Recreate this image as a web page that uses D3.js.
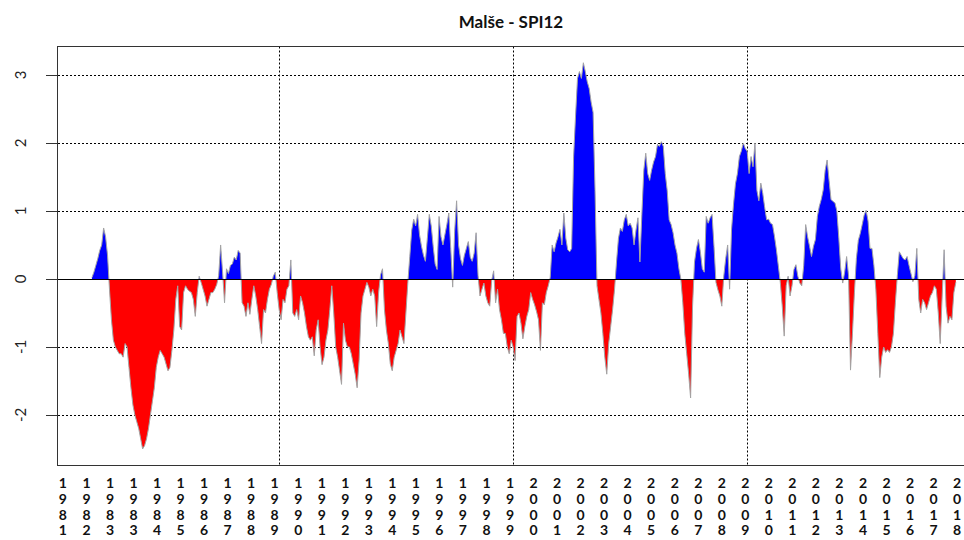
<!DOCTYPE html>
<html><head><meta charset="utf-8">
<script src="https://cdn.jsdelivr.net/npm/d3@7/dist/d3.min.js"></script>
<style>body{margin:0;background:#fff}svg{display:block}</style>
</head><body><svg id="c" width="964" height="540"></svg>
<script>
// ---- data (monthly SPI12, starting January 1982) ----
const startYear = 1982;
const spi1982_1987 = [0.02,0.1,0.2,0.3,0.42,0.5,0.75,0.62,0.35,-0.15,-0.6,-0.9,
 -1.0,-1.05,-1.1,-1.1,-1.15,-0.95,-1.0,-1.3,-1.6,-1.85,-2.0,-2.1,
 -2.2,-2.35,-2.5,-2.45,-2.35,-2.2,-2.0,-1.8,-1.6,-1.3,-1.15,-1.05,
 -1.1,-1.15,-1.25,-1.35,-1.3,-1.05,-0.75,-0.3,-0.1,-0.7,-0.75,-0.2,
 -0.1,-0.15,-0.18,-0.2,-0.3,-0.55,-0.2,0.04,-0.05,-0.15,-0.25,-0.4,
 -0.3,-0.2,-0.2,-0.15,-0.08,0.05,0.5,0.1,-0.35,0.15,0.08,0.2];
const spi1988_1993 = [0.22,0.32,0.28,0.42,0.38,-0.35,-0.4,-0.55,-0.35,-0.52,-0.3,-0.1,
 -0.25,-0.45,-0.7,-0.95,-0.45,-0.5,-0.3,-0.15,-0.08,0.04,0.1,-0.2,
 -0.45,-0.6,-0.3,-0.35,-0.15,-0.1,0.28,-0.5,-0.55,-0.45,-0.6,-0.25,
 -0.35,-0.5,-0.7,-0.85,-0.9,-0.85,-1.13,-0.75,-0.6,-1.0,-1.26,-1.15,
 -0.9,-0.75,-0.45,-0.1,-0.5,-1.0,-1.15,-1.35,-1.55,-0.65,-0.9,-1.0,
 -1.0,-1.1,-1.25,-1.4,-1.6,-1.2,-0.5,-0.25,-0.15,-0.05,-0.12,-0.25];
const spi1994_1999 = [-0.15,-0.25,-0.7,-0.2,0.06,0.15,-0.45,-0.75,-0.95,-1.25,-1.35,-1.15,
 -1.05,-0.95,-0.75,-0.85,-0.95,-0.5,-0.05,0.33,0.72,0.88,0.78,0.95,
 0.65,0.48,0.35,0.26,0.6,0.95,0.78,0.48,0.22,0.14,0.92,0.62,
 0.5,0.65,0.8,0.97,0.45,-0.12,0.7,1.15,0.5,0.3,0.2,0.35,
 0.45,0.55,0.32,0.26,0.38,0.68,0.05,-0.25,-0.15,-0.06,-0.25,-0.35,
 -0.4,-0.02,0.12,-0.35,-0.15,-0.45,-0.6,-0.8,-0.8,-1.0,-1.1,-0.9];
const spi2000_2005 = [-1.0,-1.2,-0.55,-0.5,-0.65,-0.88,-0.7,-0.55,-0.45,-0.2,-0.3,-0.38,
 -0.48,-0.6,-1.05,-0.35,-0.38,-0.2,-0.1,0.02,0.5,0.4,0.53,0.62,
 0.73,0.5,0.97,0.6,0.43,0.4,0.45,1.8,2.4,2.95,3.05,2.95,
 3.18,3.05,2.9,2.8,2.6,2.45,1.3,-0.1,-0.3,-0.5,-0.8,-1.15,
 -1.4,-0.95,-0.7,-0.45,-0.15,0.25,0.6,0.75,0.7,0.87,0.95,0.78,
 0.82,0.75,0.5,0.72,0.9,0.25,0.95,1.6,1.85,1.55,1.45,1.6];
const spi2006_2011 = [1.72,1.8,1.98,1.95,2.02,1.95,1.55,1.3,0.87,0.8,0.68,0.5,
 0.38,0.15,0.0,-0.35,-0.8,-1.1,-1.4,-1.75,-0.4,0.25,0.45,0.58,
 0.4,0.15,0.1,0.92,0.82,0.9,0.95,0.48,-0.05,-0.16,-0.25,-0.4,
 0.04,0.3,0.5,-0.15,0.73,1.1,1.4,1.55,1.8,1.88,2.0,1.92,
 1.88,1.55,1.8,1.65,2.0,1.3,1.15,1.41,1.26,1.05,0.87,0.88,
 0.82,0.8,0.63,0.43,0.19,-0.05,-0.4,-0.84,-0.1,0.04,-0.25,-0.1];
const spi2012_2018 = [0.14,0.21,0.04,-0.06,-0.1,0.2,0.8,0.62,0.48,0.33,0.48,0.58,
 0.92,1.07,1.17,1.31,1.6,1.75,1.45,1.17,1.14,1.12,1.0,0.6,
 0.15,-0.06,0.1,0.33,0.05,-1.34,-0.8,-0.2,0.3,0.57,0.67,0.8,
 0.94,1.01,0.85,0.45,0.45,0.2,-0.16,-0.8,-1.45,-1.15,-1.0,-1.08,
 -1.04,-1.08,-1.0,-0.8,-0.35,0.05,0.4,0.35,0.3,0.28,0.33,0.2,
 0.08,-0.04,0.05,0.45,-0.3,-0.5,-0.3,-0.35,-0.45,-0.35,-0.25,-0.2,
 -0.1,-0.15,-0.5,-0.95,-0.25,0.43,-0.4,-0.65,-0.55,-0.6,-0.2,-0.05];

const yTicks = [-2, -1, 0, 1, 2, 3];
const xGridYears = [1990, 2000, 2010];
const xTickLabels = ["1981","1982","1983","1983","1984","1985","1986","1987","1988","1989",
 "1990","1991","1992","1993","1994","1995","1996","1997","1998","1999",
 "2000","2001","2002","2003","2004","2005","2006","2007","2008","2009",
 "2010","2011","2012","2013","2014","2015","2016","2017","2018"];
const xLabelSpan = [1980.76, 2018.97];
const chartTitle = "Malše - SPI12";

// ---- build ----
const values = [].concat(spi1982_1987, spi1988_1993, spi1994_1999, spi2000_2005, spi2006_2011, spi2012_2018);
const data = values.map((v, i) => ({ t: startYear + i / 12, v }));

const plot = { left: 58, right: 980, top: 46.5, bottom: 465.5 };
const x = d3.scaleLinear().domain([1980.55, 2019.95]).range([plot.left, plot.right]);
const y = d3.scaleLinear().domain([-2.743, 3.419]).range([plot.bottom, plot.top]);
const xl = d3.scalePoint().domain(d3.range(xTickLabels.length)).range(xLabelSpan.map(x));

const svg = d3.select("#c");
const font = "Lato, 'Open Sans', sans-serif";
const defs = svg.append("defs");
const y0 = y(0);
defs.append("clipPath").attr("id", "pos").append("rect")
  .attr("x", plot.left).attr("y", plot.top).attr("width", plot.right - plot.left).attr("height", y0 - plot.top);
defs.append("clipPath").attr("id", "neg").append("rect")
  .attr("x", plot.left).attr("y", y0).attr("width", plot.right - plot.left).attr("height", plot.bottom - y0);

const crisp = v => Math.round(v) + 0.5;

// grid
const g = svg.append("g");
g.selectAll("line.hg").data(yTicks).join("line")
  .attr("x1", plot.left).attr("x2", plot.right)
  .attr("y1", d => crisp(y(d))).attr("y2", d => crisp(y(d)))
  .attr("stroke", "#000").attr("stroke-width", 1).attr("stroke-dasharray", "2,2");
g.selectAll("line.vg").data(xGridYears).join("line")
  .attr("x1", d => crisp(x(d))).attr("x2", d => crisp(x(d)))
  .attr("y1", plot.top).attr("y2", plot.bottom)
  .attr("stroke", "#000").attr("stroke-width", 1).attr("stroke-dasharray", "2,2");

// fills
const area = d3.area().x(d => x(d.t)).y0(y0).y1(d => y(d.v));
svg.append("path").datum(data).attr("d", area).attr("fill", "#0000ff").attr("clip-path", "url(#pos)");
svg.append("path").datum(data).attr("d", area).attr("fill", "#ff0000").attr("clip-path", "url(#neg)");
const line = d3.line().x(d => x(d.t)).y(d => y(d.v));
svg.append("path").datum(data).attr("d", line).attr("fill", "none")
  .attr("stroke", "#a3a3a3").attr("stroke-width", 1);

// zero line
svg.append("line").attr("x1", plot.left).attr("x2", plot.right)
  .attr("y1", crisp(y0)).attr("y2", crisp(y0)).attr("stroke", "#000").attr("stroke-width", 1);

// box
svg.append("rect").attr("x", plot.left - 0.5).attr("y", plot.top)
  .attr("width", plot.right - plot.left).attr("height", plot.bottom - plot.top)
  .attr("fill", "none").attr("stroke", "#333").attr("stroke-width", 1);

// y axis
svg.selectAll("line.yt").data(yTicks).join("line")
  .attr("x1", plot.left - 12).attr("x2", plot.left)
  .attr("y1", d => crisp(y(d))).attr("y2", d => crisp(y(d)))
  .attr("stroke", "#333").attr("stroke-width", 1);
svg.selectAll("text.yl").data(yTicks).join("text")
  .attr("transform", d => `translate(26,${y(d)}) rotate(-90)`)
  .attr("text-anchor", "middle")
  .attr("font-family", font).attr("font-size", 15).attr("fill", "#222")
  .text(d => d);

// x labels (stacked digits)
const xt = svg.selectAll("text.xl").data(xTickLabels).join("text")
  .attr("text-anchor", "middle")
  .attr("font-family", font).attr("font-weight", "bold").attr("font-size", 14).attr("fill", "#111");
xt.each(function (d, i) {
  const t = d3.select(this);
  d.split("").forEach((ch, k) => {
    t.append("tspan").attr("x", xl(i)).attr("y", 488 + k * 15.8).text(ch);
  });
});

// title
svg.append("text").attr("x", 511).attr("y", 28).attr("text-anchor", "middle")
  .attr("font-family", font).attr("font-weight", "bold").attr("font-size", 17).attr("fill", "#111")
  .text(chartTitle);
</script></body></html>
